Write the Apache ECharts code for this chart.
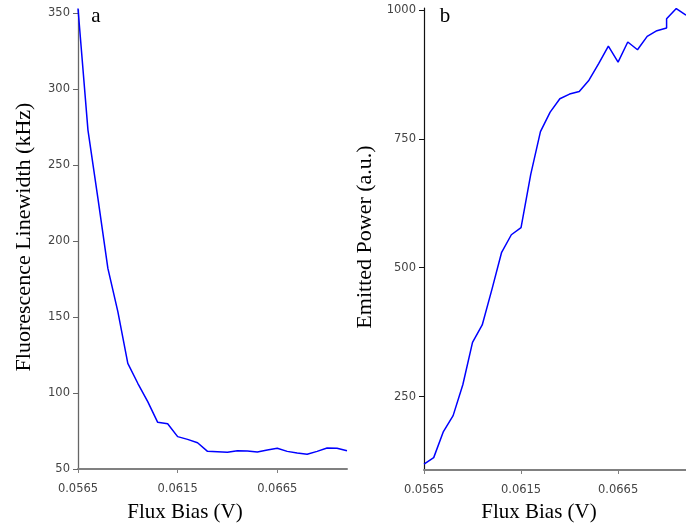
<!DOCTYPE html>
<html>
	<head>
		<meta charset="UTF-8">
		<title></title>
	</head>
	<style>
		*{margin:0;padding:0;}
		html,body{height:100%;background:#fff;}
		.chart{width:686px;height:529px;}
	</style>
	<body>
		<div id='chart' class='chart'></div>
	</body>
	<script src="https://cdn.jsdelivr.net/npm/echarts@6.0.0/dist/echarts.min.js"></script>
	<script>
		// panel a: linewidth vs flux bias
		var fluxLeft=[0.0565,0.0570,0.0575,0.0580,0.0585,0.0590,0.0595,0.0600,0.0605,0.0610,
			0.0615,0.0620,0.0625,0.0630,0.0635,0.0640,0.0645,0.0650,0.0655,0.0660,
			0.0665,0.0670,0.0675,0.0680,0.0685,0.0690,0.0695,0.0700];
		var linewidth=[353,273,228,182,153.5,119.5,106.4,94.3,80.7,79.8,
			71.3,69.5,67.3,61.6,61.4,61,62,61.8,61.2,62.5,
			63.6,61.6,60.5,59.7,61.6,63.8,63.6,62];
		// panel b: emitted power vs flux bias
		var fluxRight=[0.0565,0.0570,0.0575,0.0580,0.0585,0.0590,0.0595,0.0600,0.0605,0.0610,
			0.0615,0.0620,0.0625,0.0630,0.0635,0.0640,0.0645,0.0650,0.0655,0.0660,
			0.0665,0.0670,0.0675,0.0680,0.0685,0.0690,0.0690,0.0695,0.0700];
		var power=[119,131.5,182,213,273,355,389,458,530,564,
			578,681,764,802,828,837,842,864,896,930,
			899,938,923,949,960,965,983,1003,990];
		var xTicks=[0.0565,0.0615,0.0665];
		var leftTicks=[50,100,150,200,250,300,350];
		var rightTicks=[250,500,750,1000];

		function pairs(xs,ys){
			var out=[];
			for(var i=0;i<xs.length;i++){out.push([xs[i],ys[i]]);}
			return out;
		}
		var tickFont={color:'#444',fontFamily:'DejaVu Sans',fontSize:11.5};
		var serif='Liberation Serif';
		function plain(v){return String(v);}
		function fixed4(v){return v.toFixed(4);}

		var chart=echarts.init(document.getElementById('chart'),null,{renderer:'canvas'});
		var opt={
			animation:false,
			backgroundColor:'#fff',
			grid:[
				{left:78,top:10,width:269,height:459},
				{left:424,top:8,width:270,height:462}
			],
			xAxis:[
				{type:'value',gridIndex:0,min:0.0565,max:0.0700,
					axisLine:{lineStyle:{color:'#808080',width:2}},
					axisTick:{length:4,customValues:xTicks,lineStyle:{color:'#808080'}},
					axisLabel:Object.assign({margin:14,customValues:xTicks,formatter:fixed4},tickFont),
					splitLine:{show:false}},
				{type:'value',gridIndex:1,min:0.0565,max:0.0700,
					axisLine:{lineStyle:{color:'#808080',width:2}},
					axisTick:{length:4,customValues:xTicks,lineStyle:{color:'#808080'}},
					axisLabel:Object.assign({margin:14,customValues:xTicks,formatter:fixed4},tickFont),
					splitLine:{show:false}}
			],
			yAxis:[
				{type:'value',gridIndex:0,min:50,max:352,
					axisLine:{show:true,lineStyle:{color:'#666',width:1.3}},
					axisTick:{show:true,length:5,customValues:leftTicks,lineStyle:{color:'#666'}},
					axisLabel:Object.assign({margin:8,customValues:leftTicks,formatter:plain},tickFont),
					splitLine:{show:false}},
				{type:'value',gridIndex:1,min:107.5,max:1004,
					axisLine:{show:true,lineStyle:{color:'#111',width:1.2}},
					axisTick:{show:true,length:5,customValues:rightTicks,lineStyle:{color:'#111'}},
					axisLabel:Object.assign({margin:8,customValues:rightTicks,formatter:plain},tickFont),
					splitLine:{show:false}}
			],
			series:[
				{type:'line',xAxisIndex:0,yAxisIndex:0,data:pairs(fluxLeft,linewidth),
					showSymbol:false,lineStyle:{color:'#0000ff',width:1.5},clip:false},
				{type:'line',xAxisIndex:1,yAxisIndex:1,data:pairs(fluxRight,power),
					showSymbol:false,lineStyle:{color:'#0000ff',width:1.5},clip:true}
			],
			graphic:[
				{type:'text',x:96,y:16,style:{text:'a',font:'21px '+serif,fill:'#000',align:'center',verticalAlign:'middle'}},
				{type:'text',x:445,y:16,style:{text:'b',font:'21px '+serif,fill:'#000',align:'center',verticalAlign:'middle'}},
				{type:'text',x:185,y:512,style:{text:'Flux Bias (V)',font:'21px '+serif,fill:'#000',align:'center',verticalAlign:'middle'}},
				{type:'text',x:539,y:512,style:{text:'Flux Bias (V)',font:'21px '+serif,fill:'#000',align:'center',verticalAlign:'middle'}},
				{type:'text',x:24,y:237,rotation:Math.PI/2,style:{text:'Fluorescence Linewidth (kHz)',font:'22px '+serif,fill:'#000',align:'center',verticalAlign:'middle'}},
				{type:'text',x:365,y:237,rotation:Math.PI/2,style:{text:'Emitted Power (a.u.)',font:'22px '+serif,fill:'#000',align:'center',verticalAlign:'middle'}}
			]
		};
		chart.setOption(opt);
	</script>
</html>
